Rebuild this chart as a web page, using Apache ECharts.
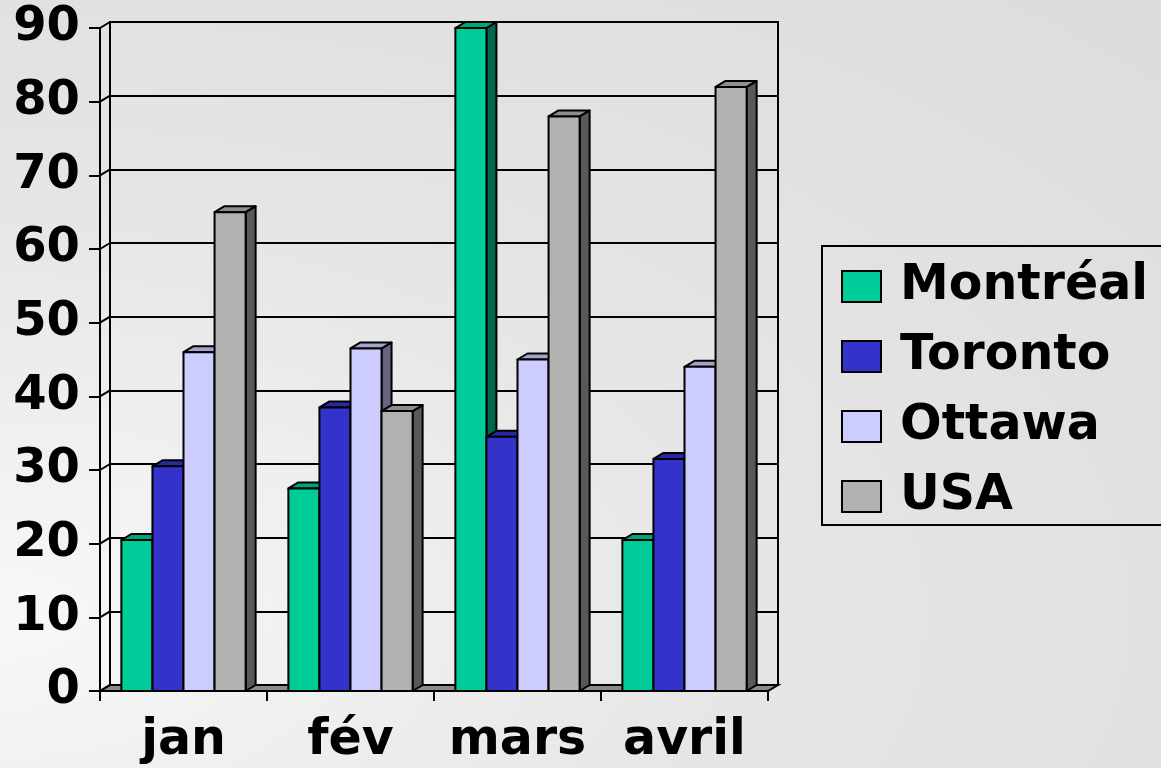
<!DOCTYPE html>
<html>
<head>
<meta charset="utf-8">
<script src="https://cdn.jsdelivr.net/npm/echarts@6/dist/echarts.min.js"></script>
<style>
  html, body { margin: 0; padding: 0; }
  #main {
    width: 1161px; height: 768px;
    background: radial-gradient(ellipse at 0% 80%, #f8f8f8 0%, #e6e6e6 45%, #dcdcdc 100%);
  }
</style>
</head>
<body>
<div id="main"></div>
<script>
var months = ['jan', 'fév', 'mars', 'avril'];
var cities = ['Montréal', 'Toronto', 'Ottawa', 'USA'];
var montreal = [20.5, 27.5, 90, 20.5];
var toronto = [30.5, 38.5, 34.5, 31.5];
var ottawa = [46, 46.5, 45, 44];
var usa = [65, 38, 78, 82];
var yTicks = [0, 10, 20, 30, 40, 50, 60, 70, 80, 90];
var colors = ['#00cc99', '#3333cc', '#ccccff', '#b2b2b2'];

var DX = 10, DY = -6;     // depth of the 3D effect
var BAR_RATIO = 0.186;    // bar width / category width
var FONT = 'DejaVu Sans';

var chart = echarts.init(document.getElementById('main'));

// darken a hex colour
function shade(hex, f) {
  var n = parseInt(hex.slice(1), 16);
  var r = Math.round(((n >> 16) & 255) * f),
    g = Math.round(((n >> 8) & 255) * f),
    b = Math.round((n & 255) * f);
  return 'rgb(' + r + ',' + g + ',' + b + ')';
}

function makeBarRender(k) {
  var front = colors[k], top = shade(colors[k], 0.8), side = shade(colors[k], 0.5);
  return function (params, api) {
    var idx = api.value(0);
    var base = api.coord([idx, 0]);
    var peak = api.coord([idx, api.value(1)]);
    var band = api.size([1, 0])[0];
    var w = band * BAR_RATIO;
    var x0 = base[0] - 2 * w + k * w;
    var x1 = x0 + w;
    var y0 = base[1], y1 = peak[1];
    var st = { stroke: '#000', lineWidth: 2, lineJoin: 'round' };
    return {
      type: 'group',
      children: [{
        type: 'polygon',
        shape: { points: [[x1, y0], [x1 + DX, y0 + DY], [x1 + DX, y1 + DY], [x1, y1]] },
        style: Object.assign({ fill: side }, st)
      }, {
        type: 'polygon',
        shape: { points: [[x0, y1], [x1, y1], [x1 + DX, y1 + DY], [x0 + DX, y1 + DY]] },
        style: Object.assign({ fill: top }, st)
      }, {
        type: 'rect',
        shape: { x: x0, y: y1, width: w, height: y0 - y1 },
        style: Object.assign({ fill: front }, st)
      }]
    };
  };
}

var barData = [montreal, toronto, ottawa, usa];
var barSeries = cities.map(function (name, k) {
  return {
    name: name,
    type: 'custom',
    xAxisIndex: 0,
    yAxisIndex: 0,
    z: 5,
    silent: true,
    itemStyle: { color: colors[k] },
    renderItem: makeBarRender(k),
    data: barData[k].map(function (v, i) { return [i, v]; })
  };
});

// floor of the box
var floorSeries = {
  type: 'custom',
  xAxisIndex: 0,
  yAxisIndex: 0,
  z: 3,
  silent: true,
  renderItem: function (params, api) {
    var cs = params.coordSys;
    var yb = cs.y + cs.height;
    return {
      type: 'polygon',
      shape: { points: [[cs.x, yb], [cs.x + cs.width, yb], [cs.x + cs.width + DX, yb + DY], [cs.x + DX, yb + DY]] },
      style: { fill: '#8a8a8a', stroke: '#000', lineWidth: 2 }
    };
  },
  data: [[0, 0]]
};

// short diagonals on the left wall
var wallSeries = {
  type: 'custom',
  xAxisIndex: 0,
  yAxisIndex: 0,
  z: 3,
  silent: true,
  renderItem: function (params, api) {
    var cs = params.coordSys;
    var y = api.coord([0, api.value(1)])[1];
    return {
      type: 'line',
      shape: { x1: cs.x, y1: y, x2: cs.x + DX, y2: y + DY },
      style: { stroke: '#000', lineWidth: 2 }
    };
  },
  data: yTicks.map(function (v) { return [0, v]; })
};

var option = {
  animation: false,
  color: colors,
  textStyle: { fontFamily: FONT },
  grid: [{
    left: 100, top: 28, width: 668, height: 663,
    outerBoundsMode: 'none'
  }, {
    left: 100 + DX, top: 28 + DY, width: 668, height: 663,
    show: true, borderColor: '#000', borderWidth: 2,
    backgroundColor: 'transparent',
    outerBoundsMode: 'none'
  }],
  legend: {
    data: cities,
    orient: 'vertical',
    left: 822,
    top: 246,
    padding: [16, 30, 4, 19],
    itemGap: 21,
    itemWidth: 39,
    itemHeight: 31,
    icon: 'rect',
    borderColor: '#000',
    borderWidth: 2,
    backgroundColor: 'transparent',
    itemStyle: { borderColor: '#000', borderWidth: 2 },
    textStyle: { fontFamily: FONT, fontWeight: 'bold', fontSize: 49, color: '#000', padding: [0, 0, 0, 14] }
  },
  xAxis: [{
    type: 'category',
    gridIndex: 0,
    data: months,
    axisLine: { lineStyle: { color: '#000', width: 2 } },
    axisTick: { show: true, interval: 0, length: 10, lineStyle: { color: '#000', width: 2 } },
    axisLabel: { interval: 0, color: '#000', fontFamily: FONT, fontWeight: 'bold', fontSize: 49, margin: 26 },
    splitLine: { show: false }
  }, {
    type: 'category',
    gridIndex: 1,
    data: months,
    show: false
  }],
  yAxis: [{
    type: 'value',
    gridIndex: 0,
    min: 0, max: 90, interval: 10,
    axisLine: { show: true, lineStyle: { color: '#000', width: 2 } },
    axisTick: { show: true, length: 11, lineStyle: { color: '#000', width: 2 } },
    axisLabel: { color: '#000', fontFamily: FONT, fontWeight: 'bold', fontSize: 48, margin: 20 },
    splitLine: { show: false }
  }, {
    type: 'value',
    gridIndex: 1,
    min: 0, max: 90, interval: 10,
    axisLine: { show: true, lineStyle: { color: '#000', width: 2 } },
    axisTick: { show: false },
    axisLabel: { show: false },
    splitLine: { show: true, lineStyle: { color: '#000', width: 2 } }
  }],
  series: [floorSeries, wallSeries].concat(barSeries)
};

chart.setOption(option);
</script>
</body>
</html>
